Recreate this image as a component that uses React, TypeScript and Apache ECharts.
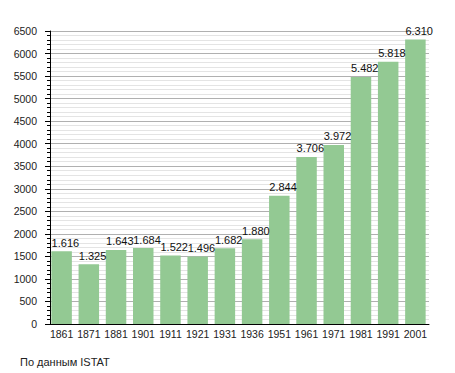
import React, { useEffect, useRef } from "react";
import * as echarts from "echarts";

const categories = ["1861", "1871", "1881", "1901", "1911", "1921", "1931", "1936", "1951", "1961", "1971", "1981", "1991", "2001"];
const population = [1616, 1325, 1643, 1684, 1522, 1496, 1682, 1880, 2844, 3706, 3972, 5482, 5818, 6310];
const sourceNote = "По данным ISTAT";

const FONT = "Liberation Sans, Arial, sans-serif";

export default function App() {
  const ref = useRef<HTMLDivElement>(null);
  useEffect(() => {
    document.body.style.margin = "0";
    const chart = echarts.init(ref.current!, null, { renderer: "svg" });
    chart.setOption({
      animation: false,
      backgroundColor: "#ffffff",
      textStyle: { fontFamily: FONT },
      grid: { left: 48, right: 26, top: 31, bottom: 49, containLabel: false },
      xAxis: {
        type: "category",
        data: categories,
        axisTick: { show: false },
        axisLine: { show: true, lineStyle: { color: "#000", width: 1 } },
        axisLabel: { interval: 0, fontSize: 10.5, color: "#222", margin: 4, fontFamily: FONT },
        splitLine: { show: false },
      },
      yAxis: {
        type: "value",
        min: 0,
        max: 6500,
        interval: 500,
        offset: -2,
        axisLine: { show: true, lineStyle: { color: "#000", width: 1 } },
        axisTick: { show: true, length: 5, lineStyle: { color: "#000" } },
        minorTick: { show: true, splitNumber: 5, length: 3, lineStyle: { color: "#000" } },
        axisLabel: {
          fontSize: 10.5,
          color: "#222",
          margin: 13,
          fontFamily: FONT,
          formatter: (v: number) => String(v),
        },
        splitLine: { show: true, lineStyle: { color: "#b0b0b0", width: 1 } },
        minorSplitLine: { show: true, lineStyle: { color: "#e4e4e4", width: 1 } },
      },
      series: [
        {
          type: "bar",
          data: population,
          barWidth: 20.5,
          itemStyle: { color: "#93c993" },
          label: {
            show: true,
            position: "top",
            align: "left",
            offset: [-10, 0],
            distance: 3,
            fontSize: 11,
            color: "#111",
            fontFamily: FONT,
            formatter: (p: any) => (p.value / 1000).toFixed(3),
          },
        },
      ],
      graphic: [
        {
          type: "text",
          left: 20,
          top: 356,
          style: { text: sourceNote, fontSize: 11, fill: "#222", fontFamily: FONT },
        },
      ],
    });
    return () => chart.dispose();
  }, []);
  return <div ref={ref} style={{ width: 455, height: 373, position: "absolute", left: 0, top: 0 }} />;
}
